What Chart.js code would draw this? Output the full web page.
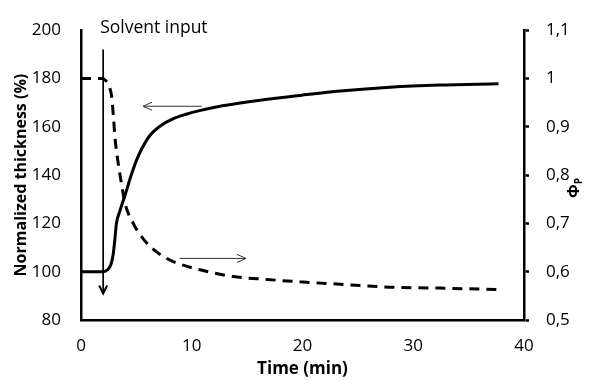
<!DOCTYPE html>
<html>
<head>
<meta charset="utf-8">
<script src="https://cdn.jsdelivr.net/npm/chart.js@4.4.3/dist/chart.umd.min.js"></script>
<style>
  html, body { margin: 0; padding: 0; background: #fff; }
  canvas { display: block; }
</style>
</head>
<body>
<canvas id="chart" width="590" height="381"></canvas>
<script>
  /* ── Data ───────────────────────────────────────────────────────────── */
  const timeThk   = [0, 2.0, 2.4, 2.7, 2.9, 3.05, 3.2, 3.5, 4.0, 4.5, 5.0, 5.5, 6.2, 7.2, 8.3, 9.5, 10.7, 12.2, 13.8, 16.8, 19.8, 23.4, 27.9, 32.4, 37.7];
  const thickness = [100, 100, 100.8, 103, 107, 113, 120, 125, 132, 139.5, 146, 151, 156.3, 160.5, 163.3, 165.2, 166.7, 168.2, 169.4, 171.4, 173, 174.8, 176.4, 177.3, 177.8];

  const timePhi = [0, 1.9, 2.3, 2.6, 2.77, 2.92, 3.07, 3.37, 3.67, 3.97, 4.72, 5.62, 6.83, 8.33, 10.74, 13.75, 16.76, 19.77, 23.4, 27.9, 32.4, 37.7];
  const phi     = [1.0, 1.0, 0.994, 0.98, 0.963, 0.923, 0.877, 0.823, 0.78, 0.742, 0.70, 0.668, 0.641, 0.621, 0.604, 0.59, 0.584, 0.579, 0.574, 0.568, 0.566, 0.563];

  const timeTicks = [0, 10, 20, 30, 40];
  const thkTicks  = [80, 100, 120, 140, 160, 180, 200];
  const phiTicks  = [0.5, 0.6, 0.7, 0.8, 0.9, 1.0, 1.1];

  // annotations, in data units (thickness axis)
  const solventArrow = { x: 2, from: 192, to: 91, label: "Solvent input" };
  const arrowLeft    = { y: 168.5, from: 10.9, to: 5.6 };
  const arrowRight   = { y: 105.5, from: 8.9, to: 14.9 };

  const FONT = "'Open Sans', 'DejaVu Sans', sans-serif";

  const pts = (xs, ys) => xs.map((x, i) => ({ x, y: ys[i] }));
  const fmtPhi = (v) => String(Math.round(v * 10) / 10).replace(".", ",");

  /* ── Annotation plugin ──────────────────────────────────────────────── */
  function chevron(ctx, tipX, tipY, dx, dy, len, half) {
    // dx,dy = unit direction of the arrow
    const bx = tipX - dx * len, by = tipY - dy * len;
    ctx.beginPath();
    ctx.moveTo(bx - dy * half, by + dx * half);
    ctx.lineTo(tipX, tipY);
    ctx.lineTo(bx + dy * half, by - dx * half);
    ctx.stroke();
  }

  const notes = {
    id: "notes",
    afterDatasetsDraw(chart) {
      const { ctx, scales: { x, y } } = chart;
      ctx.save();
      ctx.lineCap = "butt";

      // solvent input arrow
      const sx = x.getPixelForValue(solventArrow.x);
      const sy0 = y.getPixelForValue(solventArrow.from);
      const sy1 = y.getPixelForValue(solventArrow.to);
      ctx.strokeStyle = "#000";
      ctx.lineWidth = 1.7;
      ctx.beginPath();
      ctx.moveTo(sx, sy0);
      ctx.lineTo(sx, sy1);
      ctx.stroke();
      ctx.lineWidth = 2;
      chevron(ctx, sx, sy1, 0, 1, 8, 4);

      ctx.fillStyle = "#000";
      ctx.font = "17.5px " + FONT;
      ctx.textAlign = "left";
      ctx.textBaseline = "middle";
      ctx.fillText(solventArrow.label, sx - 3, 28);

      // thin arrows pointing to the axes
      ctx.strokeStyle = "#333";
      ctx.lineWidth = 1;
      [arrowLeft, arrowRight].forEach((a) => {
        const py = y.getPixelForValue(a.y);
        const x0 = x.getPixelForValue(a.from), x1 = x.getPixelForValue(a.to);
        ctx.beginPath();
        ctx.moveTo(x0, py);
        ctx.lineTo(x1, py);
        ctx.stroke();
        chevron(ctx, x1, py, Math.sign(x1 - x0), 0, 9, 4);
      });
      ctx.restore();
    },
    afterDraw(chart) {
      // right axis title: Φ with subscript P, rotated
      const { ctx } = chart;
      ctx.save();
      ctx.translate(574, 192);
      ctx.rotate(-Math.PI / 2);
      ctx.fillStyle = "#000";
      ctx.textAlign = "left";
      ctx.textBaseline = "middle";
      ctx.font = "bold 16px " + FONT;
      ctx.fillText("Φ", -6, 0);
      const w = ctx.measureText("Φ").width;
      ctx.font = "bold 10px " + FONT;
      ctx.fillText("P", -6 + w, 5);
      ctx.restore();
    },
  };

  /* ── Chart ──────────────────────────────────────────────────────────── */
  new Chart(document.getElementById("chart"), {
    type: "line",
    data: {
      datasets: [
        {
          label: "Normalized thickness",
          data: pts(timeThk, thickness),
          yAxisID: "y",
          borderColor: "#000",
          borderWidth: 3,
          pointRadius: 0,
          cubicInterpolationMode: "monotone",
        },
        {
          label: "Phi_P",
          data: pts(timePhi, phi),
          yAxisID: "y1",
          borderColor: "#000",
          borderWidth: 3,
          borderDash: [10, 7],
          pointRadius: 0,
          cubicInterpolationMode: "monotone",
        },
      ],
    },
    options: {
      responsive: false,
      animation: false,
      devicePixelRatio: 1,
      layout: { padding: { top: 22, left: 0, right: 0, bottom: 0 } },
      plugins: { legend: { display: false }, tooltip: { enabled: false } },
      scales: {
        x: {
          type: "linear",
          min: 0,
          max: 40,
          afterBuildTicks: (s) => { s.ticks = timeTicks.map((v) => ({ value: v })); },
          afterFit: (s) => { s.height = 61; },
          grid: { display: true, drawOnChartArea: false, drawTicks: false },
          border: { display: true, color: "#000", width: 2.5 },
          ticks: { color: "#000", font: { family: FONT, size: 17 }, padding: 16, maxRotation: 0 },
          title: {
            display: true,
            text: "Time (min)",
            color: "#000",
            font: { family: FONT, size: 17, weight: "bold" },
            padding: { top: 0, bottom: 2 },
          },
        },
        y: {
          position: "left",
          min: 80,
          max: 200,
          afterBuildTicks: (s) => { s.ticks = thkTicks.map((v) => ({ value: v })); },
          afterFit: (s) => { s.width = 81; },
          grid: { display: true, drawOnChartArea: false, drawTicks: false },
          border: { display: true, color: "#000", width: 2.5 },
          ticks: { color: "#000", font: { family: FONT, size: 17 }, padding: 20 },
          title: {
            display: true,
            text: "Normalized thickness (%)",
            color: "#000",
            font: { family: FONT, size: 16, weight: "bold" },
            padding: { top: 12, bottom: 0 },
          },
        },
        y1: {
          position: "right",
          min: 0.5,
          max: 1.1,
          afterBuildTicks: (s) => { s.ticks = phiTicks.map((v) => ({ value: v })); },
          afterFit: (s) => { s.width = 66; },
          grid: {
            display: true,
            drawOnChartArea: false,
            drawTicks: true,
            tickLength: 5,
            tickWidth: 2.5,
            tickColor: "#000",
          },
          border: { display: true, color: "#000", width: 2.5 },
          ticks: {
            color: "#000",
            font: { family: FONT, size: 17 },
            padding: 17,
            callback: (v) => fmtPhi(v),
          },
        },
      },
    },
    plugins: [notes],
  });
</script>
</body>
</html>
